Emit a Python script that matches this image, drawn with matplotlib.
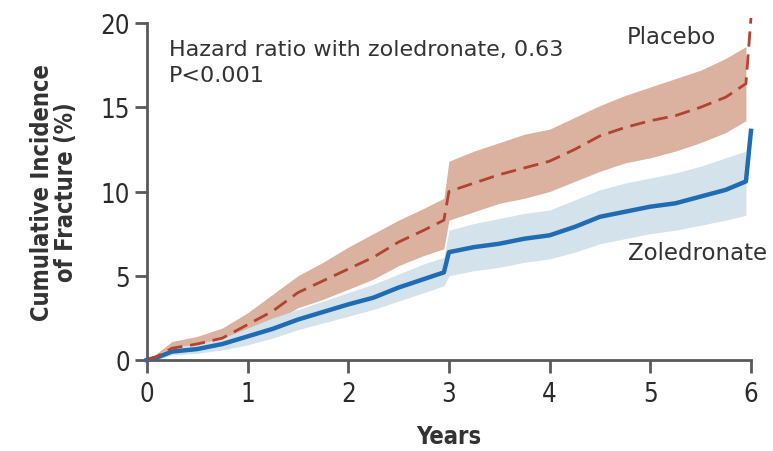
import matplotlib.pyplot as plt

# years since randomization
years = [0, 0.1, 0.25, 0.5, 0.75, 1.0, 1.25, 1.5, 1.75, 2.0, 2.25, 2.5, 2.75, 2.95,
         3.0, 3.25, 3.5, 3.75, 4.0, 4.25, 4.5, 4.75, 5.0, 5.25, 5.5, 5.75, 5.95, 6.0]

placebo = [0, 0.2, 0.7, 0.95, 1.3, 2.1, 2.9, 4.0, 4.7, 5.4, 6.1, 7.0, 7.7, 8.3,
           10.0, 10.5, 11.0, 11.4, 11.8, 12.5, 13.3, 13.8, 14.2, 14.5, 15.0, 15.6, 16.4, 20.3]
placebo_lo = [0, 0.05, 0.35, 0.6, 0.9, 1.5, 2.2, 3.1, 3.6, 4.2, 4.8, 5.6, 6.2, 6.6,
              8.3, 8.8, 9.3, 9.6, 10.0, 10.6, 11.2, 11.7, 12.0, 12.4, 12.9, 13.5, 14.2, 14.2]
placebo_hi = [0, 0.4, 1.1, 1.4, 1.9, 2.8, 3.9, 5.0, 5.8, 6.7, 7.5, 8.3, 9.0, 9.6,
              11.8, 12.4, 12.9, 13.4, 13.7, 14.4, 15.1, 15.7, 16.2, 16.7, 17.2, 17.9, 18.6, 18.6]

zoledronate = [0, 0.15, 0.5, 0.65, 0.95, 1.4, 1.85, 2.4, 2.85, 3.3, 3.7, 4.3, 4.8, 5.2,
               6.4, 6.7, 6.9, 7.2, 7.4, 7.9, 8.5, 8.8, 9.1, 9.3, 9.7, 10.1, 10.6, 13.6]
zoledronate_lo = [0, 0.05, 0.3, 0.4, 0.6, 0.9, 1.3, 1.8, 2.2, 2.6, 3.0, 3.5, 4.0, 4.4,
                  5.0, 5.3, 5.5, 5.8, 6.0, 6.4, 6.9, 7.2, 7.5, 7.7, 8.0, 8.3, 8.6, 8.6]
zoledronate_hi = [0, 0.3, 0.75, 0.95, 1.3, 1.9, 2.5, 3.0, 3.5, 4.0, 4.5, 5.1, 5.7, 6.1,
                  7.7, 8.1, 8.4, 8.7, 8.9, 9.5, 10.1, 10.5, 10.8, 11.1, 11.5, 12.0, 12.4, 12.4]

x_ticks = [0, 1, 2, 3, 4, 5, 6]
y_ticks = [0, 5, 10, 15, 20]

fig = plt.figure(figsize=(7.73, 4.52), dpi=100)
ax = fig.add_axes([0.190, 0.2013, 0.7815, 0.7456])

red = '#b2432e'
red_band = '#dbb1a0'
blue = '#1f6cb3'
blue_band = '#d4e2ec'
text_col = '#333333'

# confidence bands first, curves on top
ax.fill_between(years[:-1], placebo_lo[:-1], placebo_hi[:-1], color=red_band, lw=0)
ax.fill_between(years[:-1], zoledronate_lo[:-1], zoledronate_hi[:-1], color=blue_band, lw=0)
ax.plot(years, zoledronate, color=blue, lw=3.2, clip_on=False, zorder=3)
ax.plot(years, placebo, color=red, lw=2.0, dashes=(5.5, 2.8), clip_on=False, zorder=4)

ax.set_xlim(0, 6)
ax.set_ylim(0, 20)
ax.set_xticks(x_ticks)
ax.set_yticks(y_ticks)

for side in ['top', 'right']:
    ax.spines[side].set_visible(False)
for side in ['left', 'bottom']:
    ax.spines[side].set_color('#5a5a5a')
    ax.spines[side].set_linewidth(2)
ax.tick_params(colors='#5a5a5a', width=2, length=9, labelcolor='#2a2a2a',
               labelsize=18.5)
ax.tick_params(axis='x', pad=6)
ax.tick_params(axis='y', pad=3)
for lab in ax.get_xticklabels() + ax.get_yticklabels():
    lab.set_fontstretch('condensed')

ax.set_xlabel('Years', fontsize=17, fontweight='bold', fontstretch='condensed',
              color=text_col, labelpad=12)
ax.set_ylabel('Cumulative Incidence\nof Fracture (%)', fontsize=17, fontweight='bold',
              fontstretch='condensed', color=text_col, labelpad=16, linespacing=1.05)

ax.text(0.22, 17.7, 'Hazard ratio with zoledronate, 0.63\nP<0.001', fontsize=16,
        color=text_col, va='center', ha='left', linespacing=1.35)
ax.text(5.21, 19.2, 'Placebo', fontsize=16.5, color=text_col,
        va='center', ha='center')
ax.text(5.47, 6.4, 'Zoledronate', fontsize=16.5, color=text_col,
        va='center', ha='center')

fig.savefig('out.png', dpi=100)
